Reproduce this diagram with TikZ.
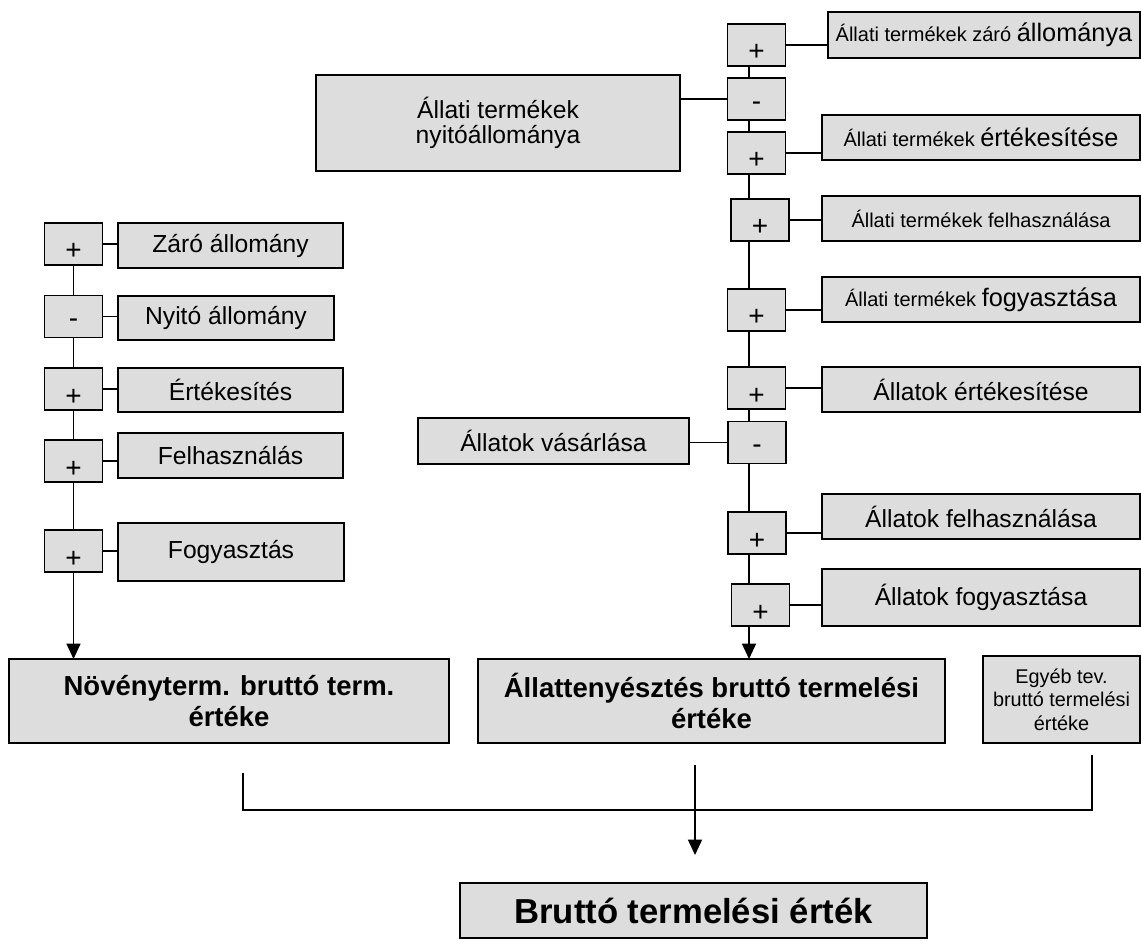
\documentclass[tikz,border=0pt]{standalone}
\usepackage{fontspec}
\setmainfont{Liberation Sans}
\usetikzlibrary{arrows.meta}
\definecolor{boxgray}{HTML}{DDDDDD}
\newcommand\normsz{\fontsize{18.5}{21}\selectfont}
\newcommand\smallsz{\fontsize{15}{18}\selectfont}
\newcommand\bigsz{\fontsize{19}{22}\selectfont}
\newcommand\egysz{\fontsize{14.9}{17.6}\selectfont}
\newcommand\sumsz{\fontsize{20.6}{23.5}\selectfont\bfseries}
\newcommand\totsz{\fontsize{26}{30}\selectfont\bfseries}
\newcommand\sgnplus{\raisebox{-12pt}[0pt][0pt]{\fontsize{21}{24}\selectfont +}}
\newcommand\sgnminus{\raisebox{-8.5pt}[0pt][0pt]{\fontsize{21}{24}\selectfont -}}
\begin{document}
\begin{tikzpicture}[x=0.75pt,y=-0.75pt,
    cellbox/.style 2 args={draw, fill=boxgray, line width=1.2pt, inner sep=0pt,
      outer sep=0pt, minimum width={#1*0.75pt}, minimum height={#2*0.75pt},
      align=center, font=\normsz},
    signbox/.style={cellbox={58}{42}},
    link/.style={line width=1.1pt},
    flow/.style={line width=1.1pt, -{Triangle[width=10.5pt,length=11.5pt]}}]
  \useasboundingbox (0,0) rectangle (1142,941);

  % left column
  \node[signbox] (s1) at (73.5,244) {\sgnplus};
  \node[signbox] (s2) at (73.5,316.5) {\sgnminus};
  \node[signbox] (s3) at (73.5,389) {\sgnplus};
  \node[signbox] (s4) at (73.5,461) {\sgnplus};
  \node[signbox] (s5) at (73.5,551) {\sgnplus};

  \node[cellbox={225}{45}] (b1) at (230.5,245.5) {Záró állomány};
  \node[cellbox={216}{44}] (b2) at (226,318) {Nyitó állomány};
  \node[cellbox={225}{44}] (b3) at (230.5,390) {Értékesítés};
  \node[cellbox={225}{45}] (b4) at (230.5,455.5) {Felhasználás};
  \node[cellbox={226}{58}] (b5) at (231,552) {Fogyasztás};

  \node[cellbox={440}{84}, font=\sumsz] (nov) at (229,701)
    {Növényterm. bruttó term.\\értéke};

  % right column
  \coordinate (spine) at (749,0);
  \node[signbox] (r1) at (756.5,45) {\sgnplus};
  \node[signbox] (r2) at (756.5,99) {\sgnminus};
  \node[signbox] (r3) at (756.5,153) {\sgnplus};
  \node[signbox] (r4) at (760,220) {\sgnplus};
  \node[signbox] (r5) at (756.5,310) {\sgnplus};
  \node[signbox] (r6) at (756.5,388) {\sgnplus};
  \node[signbox] (r7) at (757,442.5) {\sgnminus};
  \node[signbox] (r8) at (757,533) {\sgnplus};
  \node[signbox] (r9) at (760.5,605) {\sgnplus};

  \node[cellbox={312}{46}, font=\smallsz] (q1) at (984,35)
    {Állati termékek záró {\bigsz állománya}};
  \node[cellbox={318}{45}, font=\smallsz] (q3) at (981,137.5)
    {Állati termékek {\bigsz értékesítése}};
  \node[cellbox={318}{45}, font=\smallsz] (q4) at (981,218.5)
    {Állati termékek felhasználása};
  \node[cellbox={318}{45}, font=\smallsz] (q5) at (981,299.5)
    {Állati termékek {\bigsz fogyasztása}};
  \node[cellbox={318}{45}] (q6) at (981,389.5) {Állatok értékesítése};
  \node[cellbox={318}{45}] (q8) at (981,516.5) {Állatok felhasználása};
  \node[cellbox={318}{57}] (q9) at (981,597.5) {Állatok fogyasztása};

  \node[cellbox={364}{96}, font=\fontsize{18.5}{19}\selectfont] (n2) at (498,123)
    {Állati termékek\\nyitóállománya};
  \node[cellbox={271}{46}] (v7) at (553.5,441) {Állatok vásárlása};

  \node[cellbox={467}{84}, font=\sumsz] (at) at (711.5,701)
    {Állattenyésztés bruttó termelési\\értéke};
  \node[cellbox={157}{87}, font=\egysz] (eg) at (1061.5,699.5)
    {Egyéb tev.\\bruttó termelési\\értéke};

  \node[cellbox={467}{55}, font=\totsz] (tot) at (693.5,910.5)
    {Bruttó termelési érték};

  % connectors
  \foreach \a/\b in {s1/s2,s2/s3,s3/s4,s4/s5}
    \draw[link] (\a.south) -- (\b.north);
  \foreach \s/\b in {s1/b1,s2/b2,s3/b3,s4/b4,s5/b5}
    \draw[link] (\s.east) -- (\s.east -| \b.west);
  \draw[flow] (s5.south) -- (s5.south |- nov.north);

  \foreach \a/\b in {r1/r2,r2/r3,r3/r4,r4/r5,r5/r6,r6/r7,r7/r8,r8/r9}
    \draw[link] (\a.south -| spine) -- (\b.north -| spine);
  \foreach \s/\b in {r1/q1,r3/q3,r4/q4,r5/q5,r6/q6,r8/q8,r9/q9}
    \draw[link] (\s.east) -- (\s.east -| \b.west);
  \draw[link] (r2.west) -- (r2.west -| n2.east);
  \draw[link] (r7.west) -- (r7.west -| v7.east);
  \draw[flow] (r9.south -| spine) -- (spine |- at.north);

  % summing bar
  \coordinate (jl) at (243,773);
  \coordinate (jr) at (1092,755);
  \coordinate (bar) at (0,810);
  \draw[link] (jl) -- (jl |- bar) -- (jr |- bar) -- (jr);
  \coordinate (ca) at (695,765);
  \coordinate (cb) at (695,855);
  \draw[flow] (ca) -- (cb);
\end{tikzpicture}
\end{document}
